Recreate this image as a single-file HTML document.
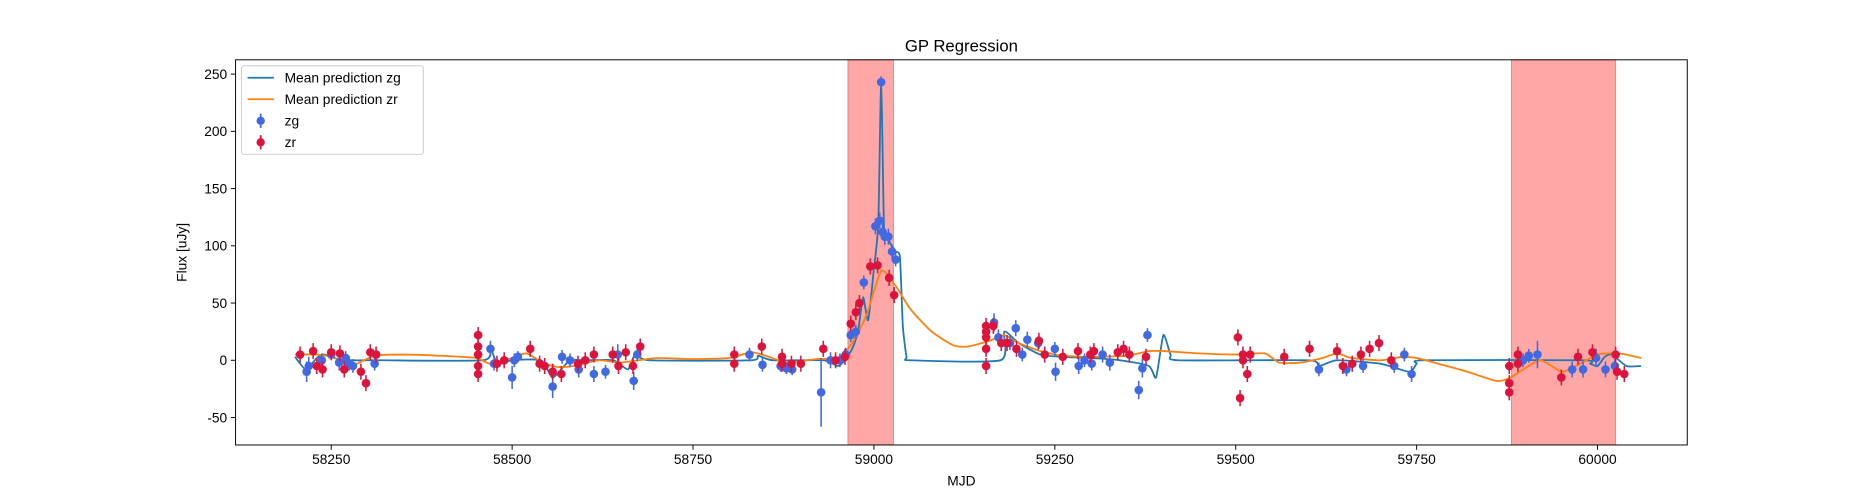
<!DOCTYPE html>
<html><head><meta charset="utf-8"><style>
html,body{margin:0;padding:0;background:#fff;}
svg{display:block;font-family:"Liberation Sans","DejaVu Sans",sans-serif;}
</style></head><body>
<svg id="chart" width="1875" height="500" viewBox="0 0 1568 418" preserveAspectRatio="none" xmlns="http://www.w3.org/2000/svg">
<rect x="0" y="0" width="1568" height="418" fill="#fff"/>
<g id="bands"></g>
<g id="plot"></g>
<rect x="197" y="50" width="1214" height="322" fill="none" stroke="#000" stroke-width="0.8"/>
<g id="axes"></g>
<text x="804" y="43" text-anchor="middle" font-size="14">GP Regression</text>
<text x="804" y="406" text-anchor="middle" font-size="11.5">MJD</text>
<text x="156" y="211" text-anchor="middle" font-size="11.5" transform="rotate(-90 156 211)">Flux [uJy]</text>
<g>
<rect x="202" y="55" width="152" height="74" rx="2" fill="#fff" fill-opacity="0.8" stroke="#ccc" stroke-width="0.8"/>
<line x1="207" y1="65" x2="229" y2="65" stroke="#1f77b4" stroke-width="1.5"/>
<text x="238" y="69" font-size="11.5">Mean prediction zg</text>
<line x1="207" y1="83" x2="229" y2="83" stroke="#ff7f0e" stroke-width="1.5"/>
<text x="238" y="87" font-size="11.5">Mean prediction zr</text>
<line x1="218" y1="95" x2="218" y2="107" stroke="#4169e1" stroke-width="1.5"/><circle cx="218" cy="101" r="3.5" fill="#4169e1"/>
<text x="238" y="105" font-size="11.5">zg</text>
<line x1="218" y1="113" x2="218" y2="125" stroke="#dc143c" stroke-width="1.5"/><circle cx="218" cy="119" r="3.5" fill="#dc143c"/>
<text x="238" y="123" font-size="11.5">zr</text>
</g>
</svg>
<script>
const xTicks=[58250,58500,58750,59000,59250,59500,59750,60000];
const yTicks=[-50,0,50,100,150,200,250];
const bandStarts=[58964,59881];
const bandEnds=[59027,60025];
const zgCurveX=[58200,58215,58230,58240,58260,58280,58300,58320,58460,58470,58480,58500,58540,58555,58565,58580,58600,58640,58660,58670,58690,58830,58840,58860,58930,58950,58960,58970,58978,58985,58992,59000,59006,59010,59014,59020,59030,59036,59040,59045,59050,59175,59180,59200,59230,59260,59300,59340,59380,59390,59400,59410,59420,59600,59615,59640,59700,59740,59750,59760,59980,59990,60000,60010,60020,60040,60060];
const zgCurveY=[3,-8,2,5,1,0,0,0,0,10,-3,0,0,-15,-10,0,0,0,-8,5,0,0,4,0,0,-5,0,10,25,55,35,80,120,243,115,105,95,90,30,3,0,0,25,15,5,3,2,0,-5,-15,22,5,0,0,-5,0,-3,-10,-3,0,0,-3,-5,3,5,-5,-5];
const zrCurveX=[58200,58230,58250,58270,58285,58310,58350,58400,58450,58470,58500,58520,58545,58565,58585,58620,58650,58700,58750,58800,58830,58850,58880,58920,58950,58970,58990,59010,59030,59050,59080,59110,59130,59160,59180,59200,59230,59260,59300,59350,59380,59400,59450,59500,59540,59560,59590,59620,59640,59660,59700,59730,59750,59780,59820,59860,59880,59920,59950,59970,60000,60030,60060];
const zrCurveY=[5,5,3,-2,-3,4,5,4,2,-3,2,6,-3,-6,-5,0,-2,2,1,2,7,4,-2,1,2,15,40,78,65,45,25,13,12,17,22,15,8,4,3,4,8,8,6,5,6,-2,-2,2,6,2,0,3,2,-3,-10,-18,-15,0,-10,-5,5,6,2];
const zgMjd=[58216,58219,58237,58250,58261,58270,58275,58280,58310,58470,58475,58500,58503,58508,58556,58569,58580,58592,58613,58629,58646,58668,58673,58828,58846,58871,58879,58887,58927,58940,58953,58961,58968,58975,58986,59002,59008,59010,59012,59015,59020,59025,59030,59166,59172,59188,59196,59205,59212,59227,59251,59250,59283,59291,59301,59316,59326,59366,59371,59378,59615,59653,59676,59719,59733,59743,59897,59905,59917,59965,59980,59998,60011,60024];
const zgFlux=[-10,-5,0,5,-2,2,-3,-5,-3,10,-3,-15,0,3,-23,3,0,-8,-12,-10,5,-18,5,5,-4,-5,-7,-8,-28,0,0,5,22,25,68,117,122,243,112,108,108,95,88,33,20,15,28,5,18,15,-10,10,-5,0,-3,5,-2,-26,-7,22,-8,-8,-5,-5,5,-12,0,4,5,-8,-8,2,-8,-5];
const zgErr=[9,8,6,5,7,6,6,6,6,7,6,10,6,5,10,6,6,7,7,6,9,8,6,6,6,5,5,5,30,7,6,6,6,6,6,7,7,5,7,7,7,6,6,8,7,6,7,6,7,6,8,6,7,6,6,7,7,8,8,6,6,6,6,6,6,7,6,6,12,7,7,8,7,6];
const zrMjd=[58207,58225,58230,58238,58250,58262,58268,58291,58298,58304,58312,58453,58453,58453,58453,58453,58479,58489,58525,58538,58545,58556,58568,58591,58601,58613,58639,58647,58657,58667,58677,58807,58807,58845,58873,58873,58886,58899,58930,58947,58960,58968,58975,58980,58995,59005,59021,59028,59155,59155,59155,59155,59155,59165,59176,59184,59197,59228,59236,59261,59282,59299,59304,59337,59345,59353,59376,59503,59506,59510,59510,59516,59520,59567,59602,59640,59648,59661,59673,59685,59698,59715,59878,59878,59878,59890,59890,59950,59973,59993,60025,60027,60037];
const zrFlux=[5,8,-5,-8,7,6,-8,-10,-20,7,5,22,12,5,-5,-12,-3,0,10,-3,-5,-10,-12,-3,0,5,5,-5,7,-5,12,5,-3,12,-3,3,-3,-3,10,0,3,32,42,50,82,83,72,57,20,25,30,10,-5,30,15,15,10,17,5,3,8,5,8,7,10,5,3,20,-33,5,0,-12,5,3,10,8,-5,-3,5,10,15,0,-5,-20,-28,5,-3,-15,3,7,5,-10,-12];
const zrErr=7;

const X0=197,X1=1411,Y0=50,Y1=372,XMIN=58117.8,XMAX=60124,YMIN=-74,YMAX=262.5;
const sx=v=>X0+(v-XMIN)/(XMAX-XMIN)*(X1-X0);
const sy=v=>Y1-(v-YMIN)/(YMAX-YMIN)*(Y1-Y0);
const NS="http://www.w3.org/2000/svg";
function mk(tag,attrs,parent){const e=document.createElementNS(NS,tag);for(const k in attrs)e.setAttribute(k,attrs[k]);parent.appendChild(e);return e;}
const bands=document.getElementById('bands'),plot=document.getElementById('plot'),axes=document.getElementById('axes');
bandStarts.forEach((s,i)=>{
  const r=mk('rect',{x:sx(s),y:Y0,width:sx(bandEnds[i])-sx(s),height:Y1-Y0,fill:'#ff0000','fill-opacity':0.35,stroke:'#ff0000','stroke-opacity':0.4,'stroke-width':0.8},bands);
  
  
});
function curve(xs,ys,color,name){
  const P=xs.map((x,i)=>[sx(x),sy(ys[i])]);
  let d='M'+P[0][0].toFixed(1)+' '+P[0][1].toFixed(1);
  for(let i=0;i<P.length-1;i++){
    const p0=P[Math.max(0,i-1)],p1=P[i],p2=P[i+1],p3=P[Math.min(P.length-1,i+2)];
    const t=0.1;
    const c1x=p1[0]+(p2[0]-p0[0])*t,c1y=p1[1]+(p2[1]-p0[1])*t;
    const c2x=p2[0]-(p3[0]-p1[0])*t,c2y=p2[1]-(p3[1]-p1[1])*t;
    d+=' C'+c1x.toFixed(1)+' '+c1y.toFixed(1)+' '+c2x.toFixed(1)+' '+c2y.toFixed(1)+' '+p2[0].toFixed(1)+' '+p2[1].toFixed(1);
  }
  const p=mk('path',{d:d,fill:'none',stroke:color,'stroke-width':1.5,'stroke-linejoin':'round'},plot);
  
  
}
curve(zgCurveX,zgCurveY,'#1f77b4','mean-prediction-zg');
curve(zrCurveX,zrCurveY,'#ff7f0e','mean-prediction-zr');
function points(ms,fs,err,color,name){
  const n=Math.min(ms.length,fs.length);
  for(let i=0;i<n;i++){
    const m=ms[i];
    const e=Array.isArray(err)?(err[i]||7):err;
    const g=mk('g',{},plot);
    
    
    mk('line',{x1:sx(m),x2:sx(m),y1:sy(fs[i]-e),y2:sy(fs[i]+e),stroke:color,'stroke-width':1.3},g);
    mk('circle',{cx:sx(m),cy:sy(fs[i]),r:3.6,fill:color},g);
  }
}
points(zgMjd,zgFlux,zgErr,'#4169e1','zg-point');
points(zrMjd,zrFlux,zrErr,'#dc143c','zr-point');
xTicks.forEach(t=>{
  const x=sx(t);
  const l=mk('line',{x1:x,x2:x,y1:Y1,y2:Y1+4,stroke:'#000','stroke-width':0.8},axes);
  
  
  const tx=mk('text',{x:x,y:Y1+16,'text-anchor':'middle','font-size':11.5},axes);
  tx.textContent=t;
  
  
});
yTicks.forEach(t=>{
  const y=sy(t);
  const l=mk('line',{x1:X0-4,x2:X0,y1:y,y2:y,stroke:'#000','stroke-width':0.8},axes);
  
  
  const tx=mk('text',{x:X0-7,y:y+4,'text-anchor':'end','font-size':11.5},axes);
  tx.textContent=t;
  
  
});
</script>
</body></html>
